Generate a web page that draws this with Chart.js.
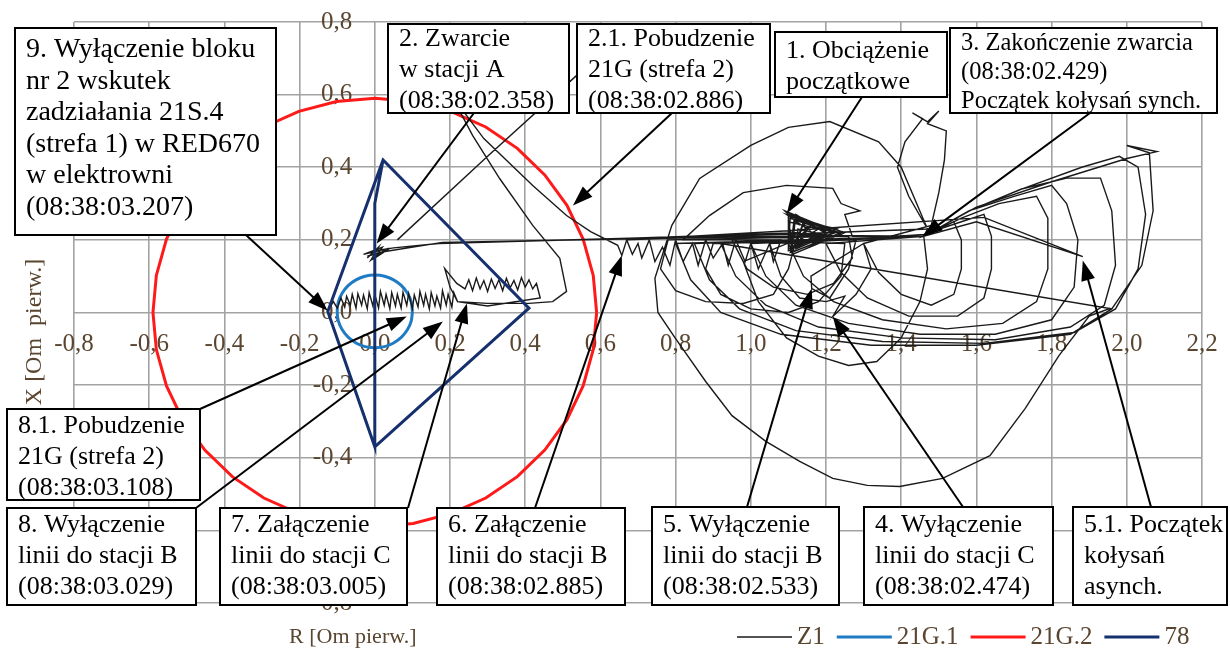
<!DOCTYPE html>
<html>
<head>
<meta charset="utf-8">
<script src="https://cdn.jsdelivr.net/npm/chart.js@4.4.1/dist/chart.umd.min.js"></script>
<style>
html,body{margin:0;padding:0;background:#fff;}
#wrap{width:1230px;height:653px;position:relative;}
</style>
</head>
<body>
<div id="wrap"><canvas id="c" width="1230" height="653"></canvas></div>
<script>
// ---------- DATA (R, X in Om pierw.) ----------
const X_MIN = -0.8, X_MAX = 2.2, Y_MIN = -0.8, Y_MAX = 0.8, TICK_STEP = 0.2;
// where the tick-label rows sit (axes cross at the origin)
const X_LABEL_ROW = -0.047, Y_LABEL_COL = -0.06;

// Z1 trajectory
const Z1_START = [[1.13,0.24],[1.09,0.28],[1.22,0.225],[1.10,0.17],[1.10,0.27],[1.25,0.22],[1.11,0.16],[1.10,0.26],[1.23,0.23],[1.11,0.18],[1.12,0.27],[1.21,0.21],[1.12,0.19],[1.14,0.25],[1.20,0.22],[1.11,0.21],[1.16,0.24],[1.13,0.20],[1.18,0.23],[1.10,0.275],[1.24,0.215],[1.105,0.165],[1.115,0.255],[1.22,0.22],[1.12,0.175],[1.125,0.23],[1.19,0.215],[1.13,0.21],[1.15,0.23],[1.095,0.27],[1.23,0.222],[1.10,0.175],[1.105,0.265],[1.235,0.218],[1.115,0.168],[1.10,0.25],[1.20,0.225],[1.12,0.185],[1.14,0.245],[1.17,0.21],[1.12,0.22]];
const Z1_FAULT = [[0.70,0.205],[0.17,0.19],[0.05,0.178],[0.0,0.17],[-0.02,0.15],[0.01,0.18],[-0.01,0.145],[0.03,0.175],[-0.03,0.16],[0.02,0.18],[0.0,0.15],[0.03,0.17],[-0.02,0.155],[0.01,0.165],[0.04,0.17]];
const Z1_UPLINE = [[0.06,0.20],[0.30,0.43],[0.537,0.653],[0.64,0.75]];
const Z1_CLEAR = [[0.18,0.193],[0.70,0.203],[1.20,0.212],[1.46,0.21]];
const Z1_TEAR = [[1.47,0.23],[1.42,0.32],[1.39,0.40],[1.41,0.47],[1.457,0.534],[1.43,0.55],[1.47,0.525],[1.50,0.555],[1.47,0.52],[1.52,0.50],[1.515,0.42],[1.50,0.33],[1.48,0.24]];
const Z1_SYNC = [
  [1.30,0.19],[1.34,0.11],[1.40,0.05],[1.48,0.02],[1.54,0.05],[1.56,0.12],[1.56,0.20],[1.54,0.25],[1.50,0.23],[1.46,0.21],
  [1.20,0.19],[1.24,0.11],[1.31,0.04],[1.42,-0.01],[1.55,-0.01],[1.62,0.04],[1.64,0.12],[1.64,0.21],[1.62,0.27],[1.56,0.25],[1.46,0.215],
  [1.10,0.19],[1.14,0.10],[1.22,0.03],[1.35,-0.02],[1.52,-0.045],[1.67,-0.03],[1.76,0.03],[1.79,0.12],[1.79,0.26],[1.76,0.32],[1.66,0.30],[1.56,0.26],[1.46,0.21],
  [1.00,0.19],[1.04,0.10],[1.12,0.02],[1.26,-0.03],[1.45,-0.06],[1.65,-0.06],[1.80,-0.02],[1.86,0.07],[1.87,0.20],[1.84,0.30],[1.80,0.35],[1.70,0.32],[1.58,0.28],[1.46,0.21]
];
const Z1_TRIP = [[1.05,0.19],[1.08,0.10],[1.13,0.04],[1.20,0.03],[1.25,0.045],[1.218,-0.011],[1.28,0.05],[1.32,0.12],[1.30,0.19],[1.16,0.10],[1.162,0.066],[1.21,0.04],[1.26,0.12],[1.28,0.2],
  [0.90,0.19],[0.88,0.12],[0.92,0.05],[1.00,0.01],[1.10,0.0],[1.18,0.03],[1.24,0.10],[1.25,0.19],
  [0.95,0.20],[0.99,0.12],[1.06,0.07],[1.15,0.05],[1.22,0.08],[1.27,0.15],[1.26,0.21],
  [0.78,0.20],[0.76,0.12],[0.80,0.06],[0.88,0.03],[0.98,0.025],[1.06,0.05],[1.10,0.12],[1.12,0.20]];
const Z1_MID = [[0.98,0.14],[1.02,0.03],[1.095,-0.07],[1.18,-0.12],[1.26,-0.146],[1.335,-0.135],[1.40,-0.07],[1.45,0.03],[1.47,0.12],[1.46,0.21]];
const Z1_ARC = [[1.27,0.21],[1.25,0.27],[1.29,0.28],[1.24,0.30],[1.218,0.342],[1.095,0.35],[0.98,0.33],[0.89,0.267],[0.82,0.20]];
const Z1_TEETH = [[1.08,0.20],[1.06,0.14],[1.05,0.19],[1.02,0.12],[1.00,0.19],[0.985,0.14],[0.96,0.20],[0.94,0.13],[0.925,0.19],[0.90,0.15],[0.88,0.20],[0.86,0.13],[0.845,0.19],[0.82,0.14],[0.80,0.20],[0.785,0.13],[0.765,0.18],[0.745,0.14],[0.73,0.20],[0.71,0.15],[0.70,0.19],[0.685,0.16],[0.67,0.20]];
const Z1_BIG = [[1.47,0.23],[1.40,0.40],[1.34,0.47],[1.21,0.526],[1.10,0.51],[1.0,0.46],[0.864,0.369],[0.79,0.24],[0.745,0.094],[0.753,0.0],[0.80,-0.072],[0.88,-0.19],[0.95,-0.284],[1.04,-0.355],[1.13,-0.41],[1.218,-0.457],[1.31,-0.476],[1.396,-0.479],[1.51,-0.457],[1.636,-0.394],[1.73,-0.264],[1.82,-0.118],[1.90,-0.01],[1.955,0.011]];
const Z1_ASYNC = [
  [0.92,0.19],[0.96,0.10],[1.04,0.02],[1.18,-0.04],[1.40,-0.07],[1.65,-0.075],[1.85,-0.04],[1.94,0.02],[1.97,0.13],[1.96,0.28],[1.93,0.37],[1.84,0.37],[1.72,0.34],[1.58,0.28],[1.46,0.21],
  [0.85,0.19],[0.89,0.09],[0.97,0.01],[1.12,-0.05],[1.35,-0.08],[1.62,-0.085],[1.86,-0.055],[1.97,0.01],[2.03,0.12],[2.05,0.27],[2.03,0.40],[1.98,0.43],[1.88,0.40],[1.72,0.34],[1.58,0.28],[1.46,0.21],
  [0.80,0.19],[0.84,0.09],[0.92,0.0],[1.08,-0.06],[1.32,-0.09],[1.60,-0.09],[1.85,-0.06],[1.96,0.01],[2.04,0.13],[2.07,0.28],[2.06,0.44],[2.00,0.46],[2.08,0.443],[2.0,0.424],[1.80,0.36],[1.60,0.29],[1.46,0.21]
];
const Z1_JUMP = [[1.60,0.25],[1.883,0.154],[1.62,0.262],[1.10,0.225],[0.67,0.20]];
const Z1_SWITCH = [[0.657,0.157],[0.646,0.185],[0.574,0.223],[0.51,0.267],[0.42,0.35],[0.29,0.479],[0.23,0.562],[0.21,0.62],[0.27,0.60],[0.218,0.57],[0.26,0.488],[0.332,0.369],[0.42,0.24],[0.492,0.149],[0.51,0.058],[0.473,0.03],[0.41,0.025],[0.30,0.025],[0.22,0.03],[0.20,0.07],[0.186,0.121],[0.218,0.08]];
const Z1_SEVEN = [[0.24,0.065],[0.25,0.09],[0.26,0.06],[0.27,0.095],[0.28,0.065],[0.29,0.088],[0.30,0.058],[0.31,0.092],[0.32,0.066],[0.33,0.09],[0.34,0.06],[0.35,0.094],[0.36,0.068],[0.37,0.088],[0.38,0.062],[0.39,0.096],[0.40,0.07],[0.41,0.09],[0.42,0.065],[0.43,0.08],[0.44,0.04],[0.30,0.018],[0.22,0.03]];
const Z1_LEFT = [[0.21,0.055],[0.205,0.015],[0.195,0.05],[0.19,0.02],[0.18,0.06],[0.175,0.012],[0.165,0.045],[0.16,0.018],[0.15,0.055],[0.145,0.01],[0.135,0.05],[0.13,0.02],[0.12,0.058],[0.115,0.015],[0.105,0.048],[0.10,0.01],[0.09,0.052],[0.085,0.02],[0.075,0.056],[0.07,0.012],[0.06,0.05],[0.055,0.018],[0.045,0.055],[0.04,0.01],[0.03,0.05],[0.025,0.02],[0.015,0.058],[0.01,0.012],[0.0,0.05],[-0.005,0.018],[-0.015,0.055],[-0.02,0.01],[-0.03,0.048],[-0.035,0.02],[-0.045,0.052],[-0.05,0.012],[-0.06,0.05],[-0.065,0.02],[-0.075,0.045],[-0.08,0.015],[-0.09,0.04],[-0.10,0.012],[-0.11,0.03],[-0.125,0.005]];

// 21G.1 (zone 1 circle), 21G.2 (zone 2 circle), 78 (out-of-step polygon)
const G21_1 = [[0.100,0.003],[0.097,0.029],[0.087,0.053],[0.071,0.074],[0.050,0.090],[0.026,0.100],[0.000,0.103],[-0.026,0.100],[-0.050,0.090],[-0.071,0.074],[-0.087,0.053],[-0.097,0.029],[-0.100,0.003],[-0.097,-0.023],[-0.087,-0.047],[-0.071,-0.068],[-0.050,-0.084],[-0.026,-0.094],[0.000,-0.097],[0.026,-0.094],[0.050,-0.084],[0.071,-0.068],[0.087,-0.047],[0.097,-0.023],[0.100,0.003]];
const G21_2 = [[0.590,0.000],[0.581,0.102],[0.554,0.202],[0.511,0.295],[0.452,0.379],[0.379,0.452],[0.295,0.511],[0.202,0.554],[0.102,0.581],[0.000,0.590],[-0.102,0.581],[-0.202,0.554],[-0.295,0.511],[-0.379,0.452],[-0.452,0.379],[-0.511,0.295],[-0.554,0.202],[-0.581,0.102],[-0.590,0.000],[-0.581,-0.102],[-0.554,-0.202],[-0.511,-0.295],[-0.452,-0.379],[-0.379,-0.452],[-0.295,-0.511],[-0.202,-0.554],[-0.102,-0.581],[0.000,-0.590],[0.102,-0.581],[0.202,-0.554],[0.295,-0.511],[0.379,-0.452],[0.452,-0.379],[0.511,-0.295],[0.554,-0.202],[0.581,-0.102],[0.590,0.000]];
const P78 = [[0.0,-0.37],[0.41,0.012],[0.022,0.42],[-0.125,0.003],[0.0,-0.37],[0.0,0.30],[0.022,0.42]];

// annotations: target points in data units
const NOTE_TARGETS = {
  n9:[-0.125,0.005], n2:[0.005,0.19], n21:[0.527,0.295], n1:[1.096,0.273], n3:[1.457,0.209],
  n81:[0.085,-0.011], n8:[0.181,-0.025], n7:[0.245,0.025], n6:[0.657,0.157], n5:[1.162,0.066], n4:[1.218,-0.011], n51:[1.883,0.143]
};
const NOTE_TEXTS = {
  n9:["9. Wyłączenie bloku","nr 2 wskutek","zadziałania 21S.4","(strefa 1) w RED670","w elektrowni","(08:38:03.207)"],
  n2:["2. Zwarcie","w stacji A","(08:38:02.358)"],
  n21:["2.1. Pobudzenie","21G (strefa 2)","(08:38:02.886)"],
  n1:["1. Obciążenie","początkowe"],
  n3:["3. Zakończenie zwarcia","(08:38:02.429)","Początek kołysań synch."],
  n81:["8.1. Pobudzenie","21G (strefa 2)","(08:38:03.108)"],
  n8:["8. Wyłączenie","linii do stacji B","(08:38:03.029)"],
  n7:["7. Załączenie","linii do stacji C","(08:38:03.005)"],
  n6:["6. Załączenie","linii do stacji B","(08:38:02.885)"],
  n5:["5. Wyłączenie","linii do stacji B","(08:38:02.533)"],
  n4:["4. Wyłączenie","linii do stacji C","(08:38:02.474)"],
  n51:["5.1. Początek","kołysań","asynch."]
};
// ---------- layout (pixels): box [x,y,w,h], font size, first baseline offset, line pitch, arrow start ----------
const NOTE_LAYOUT = {
  n9:{box:[15,28,261,207], size:28, base:29, pitch:31.6, from:[246,235]},
  n2:{box:[388,24,181,89], size:26, base:22, pitch:31, from:[474,113]},
  n21:{box:[577,24,193,89], size:26, base:22, pitch:31, from:[672,113]},
  n1:{box:[775,32,172,65], size:26, base:26, pitch:31, from:[862,97]},
  n3:{box:[950,28,267,85], size:24.5, base:22, pitch:29, from:[1090,113]},
  n81:{box:[7,409,193,91], size:26, base:24, pitch:31, from:[200,409]},
  n8:{box:[7,508,189,97], size:26, base:24, pitch:31, from:[196,508]},
  n7:{box:[220,508,187,97], size:26, base:24, pitch:31, from:[408,508]},
  n6:{box:[437,508,188,97], size:26, base:24, pitch:31, from:[535,508]},
  n5:{box:[652,507,187,98], size:26, base:25, pitch:31, from:[747,507]},
  n4:{box:[864,507,189,98], size:26, base:25, pitch:31, from:[963,507]},
  n51:{box:[1073,507,154,98], size:26, base:25, pitch:31, from:[1151,507]}
};

const SERIF = "'Liberation Serif','Times New Roman',serif";
const TICK_COLOR = '#5a4630';

const toXY = a => a.map(p => ({x:p[0], y:p[1]}));
const GAP = [{x:null, y:null}];
const z1Data = [].concat(
  toXY(Z1_START), toXY(Z1_FAULT), GAP, toXY(Z1_UPLINE), GAP,
  toXY(Z1_FAULT.slice(-1)), toXY(Z1_CLEAR), toXY(Z1_TEAR), toXY(Z1_SYNC), toXY(Z1_TRIP),
  toXY(Z1_MID), toXY(Z1_ARC), toXY(Z1_TEETH), toXY(Z1_BIG), toXY(Z1_ASYNC), toXY(Z1_JUMP),
  toXY(Z1_SWITCH), toXY(Z1_SEVEN), toXY(Z1_LEFT)
);

const fmt = v => (Math.abs(v) < 1e-9 ? '0,0' : v.toFixed(1).replace('.', ','));

const notesPlugin = {
  id: 'notes',
  afterDraw(chart) {
    const ctx = chart.ctx, xs = chart.scales.x, ys = chart.scales.y;
    ctx.save();
    // arrows
    ctx.strokeStyle = '#000'; ctx.fillStyle = '#000'; ctx.lineWidth = 2;
    Object.keys(NOTE_LAYOUT).forEach(k => {
      const [x1, y1] = NOTE_LAYOUT[k].from;
      const t = NOTE_TARGETS[k];
      const x2 = xs.getPixelForValue(t[0]), y2 = ys.getPixelForValue(t[1]);
      const a = Math.atan2(y2 - y1, x2 - x1), L = 20, W = 7;
      const c = Math.cos(a), s = Math.sin(a);
      ctx.beginPath(); ctx.moveTo(x1, y1); ctx.lineTo(x2 - L * 0.8 * c, y2 - L * 0.8 * s); ctx.stroke();
      ctx.beginPath(); ctx.moveTo(x2, y2);
      ctx.lineTo(x2 - L * c + W * s, y2 - L * s - W * c);
      ctx.lineTo(x2 - L * c - W * s, y2 - L * s + W * c);
      ctx.closePath(); ctx.fill();
    });
    // boxes
    ctx.textBaseline = 'alphabetic'; ctx.textAlign = 'left';
    Object.keys(NOTE_LAYOUT).forEach(k => {
      const L = NOTE_LAYOUT[k];
      const [bx, by, bw, bh] = L.box;
      ctx.fillStyle = '#fff'; ctx.fillRect(bx, by, bw, bh);
      ctx.strokeStyle = '#000'; ctx.lineWidth = 2; ctx.strokeRect(bx, by, bw, bh);
      ctx.fillStyle = '#000'; ctx.font = L.size + 'px ' + SERIF;
      NOTE_TEXTS[k].forEach((line, i) => ctx.fillText(line, bx + 11, by + L.base + i * L.pitch));
    });
    // axis titles
    ctx.fillStyle = TICK_COLOR; ctx.font = '22px ' + SERIF;
    ctx.textAlign = 'left'; ctx.textBaseline = 'middle';
    ctx.fillText('R [Om pierw.]', 289, 637);
    ctx.save(); ctx.translate(35, 332); ctx.rotate(-Math.PI / 2); ctx.textAlign = 'center';
    ctx.font = '24px ' + SERIF;
    ctx.fillText('X [Om  pierw.]', 0, 0); ctx.restore();
    // legend
    ctx.font = '25px ' + SERIF; ctx.textAlign = 'left'; ctx.textBaseline = 'middle';
    let lx = 737; const ly = 637;
    chart.data.datasets.forEach(ds => {
      ctx.strokeStyle = ds.borderColor; ctx.lineWidth = ds.label === 'Z1' ? 1.6 : 3;
      ctx.beginPath(); ctx.moveTo(lx, ly); ctx.lineTo(lx + 55, ly); ctx.stroke();
      ctx.fillStyle = TICK_COLOR; ctx.fillText(ds.label, lx + 60, ly);
      lx += 60 + ctx.measureText(ds.label).width + 12;
    });
    ctx.restore();
  }
};

new Chart(document.getElementById('c'), {
  type: 'scatter',
  data: {
    datasets: [
      {label:'Z1', data:z1Data, showLine:true, borderColor:'#1a1a1a', borderWidth:1.4, pointRadius:0, tension:0, spanGaps:false},
      {label:'21G.1', data:toXY(G21_1), showLine:true, borderColor:'#1f7bc4', borderWidth:3, pointRadius:0, tension:0.3},
      {label:'21G.2', data:toXY(G21_2), showLine:true, borderColor:'#ff1a1a', borderWidth:3, pointRadius:0, tension:0},
      {label:'78', data:toXY(P78), showLine:true, borderColor:'#16306e', borderWidth:3, pointRadius:0, tension:0, order:-1}
    ]
  },
  options: {
    responsive:false, animation:false, devicePixelRatio:1,
    layout:{padding:{left:74, top:22, right:28, bottom:50}},
    plugins:{legend:{display:false}, tooltip:{enabled:false}},
    scales:{
      x:{type:'linear', min:X_MIN, max:X_MAX, position:{y:X_LABEL_ROW},
         afterFit:s=>{s.height=0;},
         border:{display:false},
         grid:{color:'#a3a3a3', lineWidth:1.6, drawTicks:false},
         ticks:{stepSize:TICK_STEP, padding:0, autoSkip:false, maxRotation:0, color:TICK_COLOR, font:{family:SERIF, size:25}, callback:fmt}},
      y:{type:'linear', min:Y_MIN, max:Y_MAX, position:{x:Y_LABEL_COL},
         afterFit:s=>{s.width=0;},
         border:{display:false},
         grid:{color:'#a3a3a3', lineWidth:1.6, drawTicks:false},
         ticks:{stepSize:TICK_STEP, padding:0, autoSkip:false, color:TICK_COLOR, font:{family:SERIF, size:25}, callback:fmt}}
    }
  },
  plugins:[notesPlugin]
});
</script>
</body>
</html>
